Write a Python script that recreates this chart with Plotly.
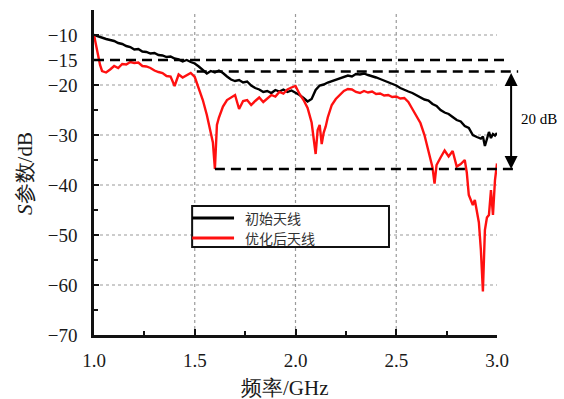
import plotly.graph_objects as go

# ---- data -------------------------------------------------------------
freq_init = [1.00, 1.02, 1.04, 1.06, 1.08, 1.10, 1.12, 1.14, 1.16, 1.18,
             1.20, 1.22, 1.24, 1.26, 1.28, 1.30, 1.32, 1.34, 1.36, 1.38,
             1.40, 1.42, 1.44, 1.46, 1.48, 1.50, 1.52, 1.54, 1.56, 1.58,
             1.60, 1.62, 1.64, 1.66, 1.68, 1.70, 1.72, 1.74, 1.76, 1.78,
             1.80, 1.82, 1.84, 1.86, 1.88, 1.90, 1.92, 1.94, 1.96, 1.98,
             2.00, 2.02, 2.04, 2.06, 2.08, 2.10, 2.12, 2.14, 2.16, 2.18,
             2.20, 2.22, 2.24, 2.26, 2.28, 2.30, 2.32, 2.34, 2.36, 2.38,
             2.40, 2.42, 2.44, 2.46, 2.48, 2.50, 2.52, 2.54, 2.56, 2.58,
             2.60, 2.62, 2.64, 2.66, 2.68, 2.70, 2.72, 2.74, 2.76, 2.78,
             2.80, 2.82, 2.84, 2.86, 2.88, 2.90, 2.92, 2.93, 2.94, 2.95,
             2.96, 2.97, 2.98, 2.99, 3.00]
s_init = [-10.0, -10.3, -10.6, -10.8, -11.0, -11.2, -11.6, -11.8, -12.2, -12.4,
          -12.9, -12.8, -13.3, -13.4, -13.7, -13.6, -14.0, -14.1, -14.4, -14.3,
          -14.7, -14.9, -15.3, -15.0, -15.4, -15.7, -16.3, -17.0, -17.7, -17.2,
          -17.5, -17.1, -17.6, -18.3, -18.9, -19.2, -19.0, -19.5, -19.3, -20.1,
          -20.6, -20.9, -21.4, -21.2, -21.6, -21.0, -21.3, -20.9, -21.4, -21.1,
          -21.5, -22.0, -22.6, -23.3, -22.8, -21.0, -20.1, -19.9, -19.5, -19.2,
          -18.9, -18.6, -18.4, -18.1, -18.3, -17.8, -17.9, -17.7, -18.0, -18.2,
          -18.5, -18.8, -19.1, -19.4, -19.8, -20.1, -20.6, -21.0, -21.3, -21.6,
          -22.0, -22.4, -22.9, -23.1, -23.8, -24.2, -25.0, -25.5, -25.8, -26.4,
          -27.0, -27.3, -28.2, -28.6, -30.0, -30.4, -30.7, -30.3, -32.2, -30.8,
          -29.4, -30.6, -29.8, -30.1, -29.6]

freq_opt = [1.00, 1.01, 1.02, 1.03, 1.04, 1.06, 1.08, 1.10, 1.12, 1.14,
            1.16, 1.18, 1.20, 1.22, 1.24, 1.26, 1.28, 1.30, 1.32, 1.34,
            1.36, 1.38, 1.40, 1.42, 1.44, 1.46, 1.48, 1.50, 1.52, 1.54,
            1.56, 1.58, 1.59, 1.60, 1.61, 1.62, 1.64, 1.66, 1.68, 1.70,
            1.72, 1.74, 1.76, 1.78, 1.80, 1.82, 1.84, 1.86, 1.88, 1.90,
            1.92, 1.94, 1.96, 1.98, 2.00, 2.02, 2.04, 2.06, 2.08, 2.10,
            2.11, 2.12, 2.13, 2.14, 2.15, 2.16, 2.18, 2.20, 2.22, 2.24,
            2.26, 2.28, 2.30, 2.32, 2.34, 2.36, 2.38, 2.40, 2.42, 2.44,
            2.46, 2.48, 2.50, 2.52, 2.54, 2.56, 2.58, 2.60, 2.62, 2.64,
            2.66, 2.68, 2.69, 2.70, 2.72, 2.74, 2.76, 2.78, 2.80, 2.82,
            2.84, 2.85, 2.86, 2.88, 2.89, 2.90, 2.91, 2.92, 2.93, 2.94,
            2.95, 2.96, 2.97, 2.98, 2.99, 3.00]
s_opt = [-10.0, -12.0, -14.0, -16.0, -17.2, -17.5, -16.9, -16.2, -16.6, -15.8,
         -15.9, -15.4, -15.6, -15.5, -16.2, -16.3, -16.6, -17.1, -17.4, -17.6,
         -18.2, -18.3, -20.2, -17.9, -18.5, -18.0, -17.6, -18.4, -20.5, -23.0,
         -26.0, -29.5, -31.5, -36.8, -28.0, -26.5, -24.3, -23.0, -22.5, -22.0,
         -24.8, -23.2, -23.0, -24.0, -23.2, -22.5, -23.4, -22.6, -22.0, -22.3,
         -21.4, -21.7, -20.9, -20.5, -20.2, -21.8, -23.0, -24.6, -27.5, -33.8,
         -29.0, -28.0, -31.8, -29.5, -28.3, -26.5, -24.0, -22.8, -21.9, -21.2,
         -20.8, -20.9, -21.4, -21.6, -21.2, -21.5, -21.3, -21.8, -21.7, -22.1,
         -22.0, -22.4, -22.3, -22.7, -22.6, -23.4, -24.8, -26.3, -27.6, -30.0,
         -33.5, -36.5, -39.7, -36.0, -34.5, -33.1, -34.3, -33.2, -36.3, -35.8,
         -35.0, -37.5, -42.0, -44.0, -43.0, -45.5, -47.5, -53.0, -61.3, -49.0,
         -46.5, -46.0, -41.0, -46.0, -39.0, -35.7]

series_names = ["初始天线", "优化后天线"]

x_ticks = [1.0, 1.5, 2.0, 2.5, 3.0]
x_ticktext = ["1.0", "1.5", "2.0", "2.5", "3.0"]
x_minor = [1.25, 1.75, 2.25, 2.75]
y_ticks = [-10, -15, -20, -30, -40, -50, -60, -70]
y_ticktext = ["\u221210", "\u221215", "\u221220", "\u221230",
              "\u221240", "\u221250", "\u221260", "\u221270"]
y_minor = [-5, -25, -35, -45, -55, -65]
x_grid = [1.5, 2.0, 2.5]
y_grid = [-10, -20, -30, -40, -50, -60]

# reference levels: (level dB, start GHz, end GHz)
ref_levels = [(-15.0, 1.00, 3.04), (-17.3, 1.51, 3.105), (-36.8, 1.60, 3.105)]
gain_top, gain_bottom = -17.3, -36.8
gain_label = "20 dB"

X_RANGE = (1.0, 3.0)
Y_RANGE = (-70.0, -5.0)


def xp(f):
    """frequency -> paper x"""
    return (f - X_RANGE[0]) / (X_RANGE[1] - X_RANGE[0])


def yp(v):
    """dB -> paper y"""
    return (v - Y_RANGE[0]) / (Y_RANGE[1] - Y_RANGE[0])


SERIF = "Liberation Serif"
CJK = "Noto Sans CJK SC"
AXIS_TEXT = "#1a1a1a"

fig = go.Figure()
fig.add_trace(go.Scatter(x=freq_init, y=s_init, mode="lines", name=series_names[0],
                         line=dict(color="#000000", width=2.4), showlegend=False))
fig.add_trace(go.Scatter(x=freq_opt, y=s_opt, mode="lines", name=series_names[1],
                         line=dict(color="#ff1010", width=2.4), showlegend=False))

shapes = []
# dotted grid
for g in x_grid:
    shapes.append(dict(type="line", xref="x", yref="paper", x0=g, x1=g, y0=0, y1=0.99,
                       line=dict(color="#9a9a9a", width=1.2, dash="dot"), layer="below"))
for g in y_grid:
    shapes.append(dict(type="line", xref="paper", yref="y", x0=0, x1=1, y0=g, y1=g,
                       line=dict(color="#9a9a9a", width=1.2, dash="dot"), layer="below"))
# dashed reference levels
for lvl, f0, f1 in ref_levels:
    shapes.append(dict(type="line", xref="paper", yref="paper",
                       x0=xp(f0), x1=xp(f1), y0=yp(lvl), y1=yp(lvl),
                       line=dict(color="#000000", width=2.6, dash="10px,6px"), layer="above"))

# legend box
lg_x0, lg_x1 = xp(1.487), xp(2.464)
lg_y0, lg_y1 = yp(-52.4), yp(-44.2)
shapes.append(dict(type="rect", xref="paper", yref="paper", x0=lg_x0, x1=lg_x1,
                   y0=lg_y0, y1=lg_y1, fillcolor="white",
                   line=dict(color="#111111", width=2), layer="above"))
legend_rows = [yp(-46.6), yp(-50.6)]
legend_colors = ["#000000", "#ff1010"]
for row_y, col in zip(legend_rows, legend_colors):
    shapes.append(dict(type="line", xref="paper", yref="paper",
                       x0=lg_x0, x1=xp(1.695), y0=row_y, y1=row_y,
                       line=dict(color=col, width=3), layer="above"))

annotations = []
for row_y, name in zip(legend_rows, series_names):
    annotations.append(dict(text=name, xref="paper", yref="paper", x=xp(1.74), y=row_y,
                            xanchor="left", yanchor="middle", showarrow=False,
                            font=dict(family=CJK, size=14, color="#333333")))

# double-headed gain arrow
arrow_x = xp(3.07)
annotations.append(dict(text="", xref="paper", yref="y", x=arrow_x, y=gain_bottom,
                        axref="pixel", ayref="y", ax=0, ay=gain_top,
                        showarrow=True, arrowhead=2, startarrowhead=2, arrowsize=1.3,
                        startarrowsize=1.3, arrowwidth=2, arrowcolor="#000000",
                        arrowside="end+start", standoff=0, startstandoff=0))
annotations.append(dict(text=gain_label, xref="paper", yref="y", x=xp(3.21),
                        y=(gain_top + gain_bottom) / 2 + 0.3,
                        xanchor="center", yanchor="middle", showarrow=False,
                        font=dict(family=SERIF, size=15, color="#000000")))

# axis titles
annotations.append(dict(text="频率/GHz", xref="paper", yref="paper",
                        x=xp(1.948), y=yp(-80.6), xanchor="center", yanchor="middle",
                        showarrow=False, font=dict(family=SERIF, size=21, color=AXIS_TEXT)))
annotations.append(dict(text="<i>S</i>参数/dB", xref="paper", yref="paper",
                        x=xp(0.657), y=yp(-37.6), xanchor="center", yanchor="middle",
                        textangle=-90, showarrow=False,
                        font=dict(family=SERIF, size=21, color=AXIS_TEXT)))

fig.update_layout(
    width=564, height=399,
    margin=dict(l=94, r=67, t=10, b=64),
    paper_bgcolor="white", plot_bgcolor="white",
    shapes=shapes, annotations=annotations,
    showlegend=False,
    xaxis=dict(range=list(X_RANGE), tickvals=x_ticks, ticktext=x_ticktext,
               showgrid=False, zeroline=False, showline=True,
               linecolor="#111111", linewidth=2.5,
               ticks="inside", ticklen=6, tickwidth=2, tickcolor="#111111",
               ticklabelstandoff=6,
               minor=dict(tickvals=x_minor, ticks="inside", ticklen=4,
                          tickwidth=2, tickcolor="#111111", showgrid=False),
               tickfont=dict(family=SERIF, size=19, color=AXIS_TEXT)),
    yaxis=dict(range=list(Y_RANGE), tickvals=y_ticks, ticktext=y_ticktext,
               showgrid=False, zeroline=False, showline=True,
               linecolor="#111111", linewidth=2.5,
               ticks="inside", ticklen=5, tickwidth=2, tickcolor="#111111",
               ticklabelstandoff=10,
               minor=dict(tickvals=y_minor, ticks="inside", ticklen=4,
                          tickwidth=2, tickcolor="#111111", showgrid=False),
               tickfont=dict(family=SERIF, size=19, color=AXIS_TEXT)),
)

fig.write_html("out.html")
